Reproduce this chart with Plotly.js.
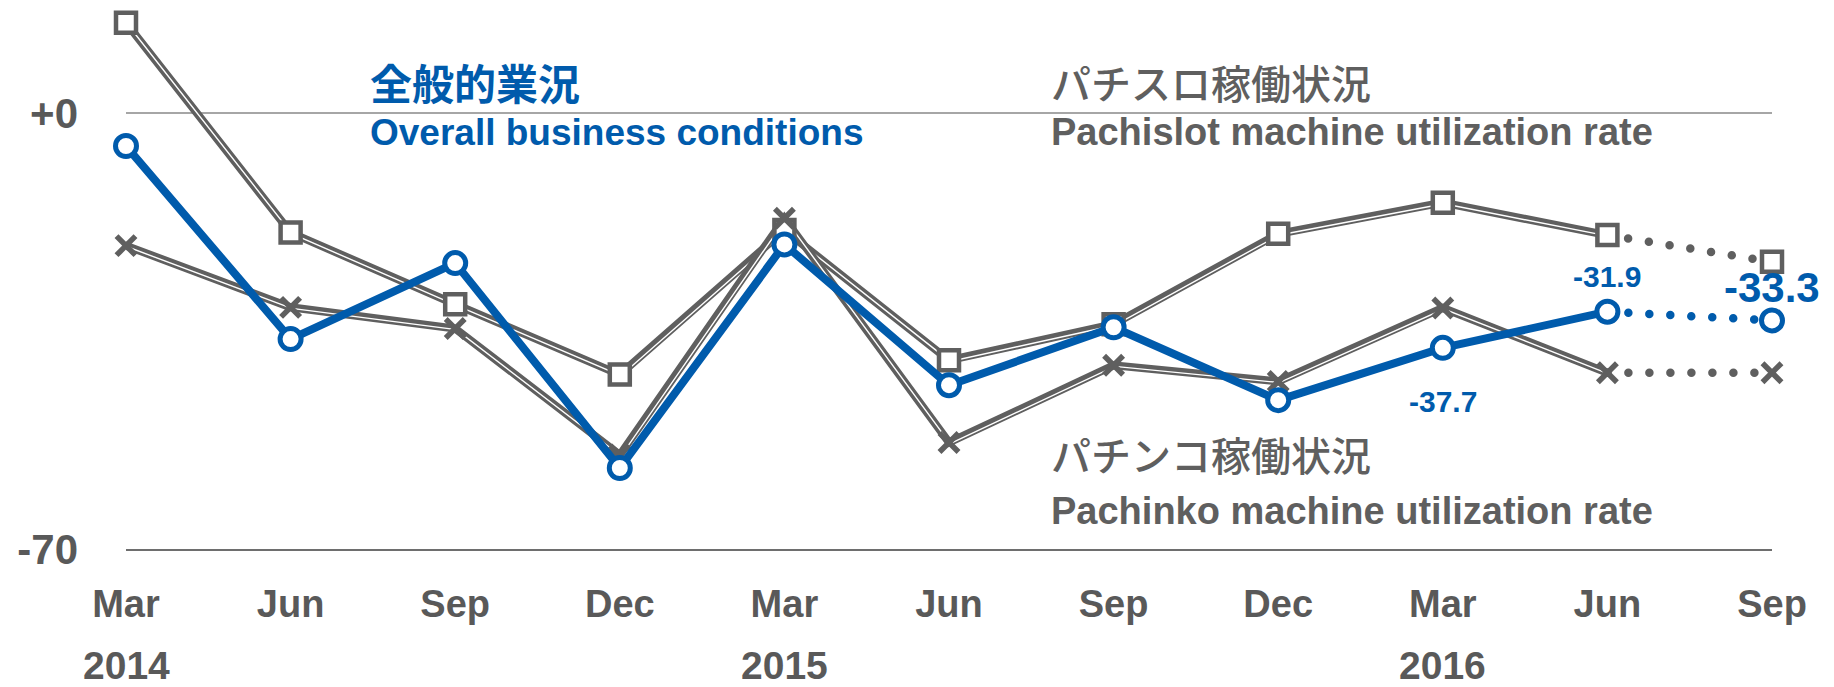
<!DOCTYPE html>
<html><head><meta charset="utf-8">
<script src="https://cdn.plot.ly/plotly-3.0.1.min.js"></script>
<style>
html,body{margin:0;padding:0;background:#fff;}
#chart{width:1834px;height:687px;}
.js-line{stroke-linecap:round !important;}
</style></head><body><div id="chart"></div>
<script>
const months = ['Mar','Jun','Sep','Dec','Mar','Jun','Sep','Dec','Mar','Jun','Sep'];
const years = ['2014','2015','2016'];
const yearIdx = [0, 4, 8];
const slot = [14.5, -19.2, -30.7, -42.0, -18.8, -39.7, -33.9, -19.4, -14.4, -19.6, -23.9];
const pachinko = [-21.3, -31.2, -34.6, -54.9, -16.9, -52.9, -40.5, -43.1, -31.3, -41.7, -41.7];
const overall = [-5.3, -36.3, -24.1, -57.0, -21.1, -43.7, -34.4, -46.1, -37.7, -31.9, -33.3];
const labelIdx = [8, 9, 10];

const GREY = '#5f5f5f', BLUE = '#005bac', TXT = '#595959';
const FONT = '"Liberation Sans", Arial, sans-serif';
const JP = '"Noto Sans CJK JP", sans-serif';
const idx = months.map((_, i) => i);
const lastSolid = 9;
const sX = idx.slice(0, lastSolid + 1), dX = idx.slice(lastSolid);

function line(x, y, color, width, dash) {
  return {x: x, y: y, type: 'scatter', mode: 'lines', hoverinfo: 'skip', showlegend: false,
    line: {color: color, width: width, dash: dash || 'solid'}};
}
function markers(y, symbol, size, fill, lc, lw) {
  return {x: idx, y: y, type: 'scatter', mode: 'markers', cliponaxis: false, showlegend: false,
    marker: {symbol: symbol, size: size, color: fill, line: {color: lc, width: lw}}};
}
const DOT = '0px,21px';
const traces = [
  line(sX, slot.slice(0, lastSolid + 1), GREY, 8),
  line(sX, slot.slice(0, lastSolid + 1), '#ffffff', 1.4),
  line(dX, slot.slice(lastSolid), GREY, 8.5, DOT),
  line(sX, pachinko.slice(0, lastSolid + 1), GREY, 8),
  line(sX, pachinko.slice(0, lastSolid + 1), '#ffffff', 1.4),
  line(dX, pachinko.slice(lastSolid), GREY, 8.5, DOT),
  markers(slot, 'square', 20, '#ffffff', GREY, 4.5),
  markers(pachinko, 'x-thin', 19, GREY, GREY, 5.5),
  line(sX, overall.slice(0, lastSolid + 1), BLUE, 8),
  line(dX, overall.slice(lastSolid), BLUE, 8.5, DOT),
  markers(overall, 'circle', 21, '#ffffff', BLUE, 5)
];
const whiteTraceIdx = [1, 4];

const labelShift = [-54, 35, 33];
const labelSize = [30, 30, 42];
const annotations = [];
yearIdx.forEach((xi, k) => annotations.push({
  x: xi, y: -0.2555, xref: 'x', yref: 'paper', text: years[k], showarrow: false, borderpad: 0,
  xanchor: 'center', yanchor: 'bottom', font: {family: FONT, size: 39, color: TXT, weight: 'bold'}
}));
labelIdx.forEach((xi, k) => annotations.push({
  x: xi, y: overall[xi], xref: 'x', yref: 'y', text: overall[xi].toFixed(1), showarrow: false,
  yshift: labelShift[k], xanchor: 'center', yanchor: 'middle',
  font: {family: FONT, size: labelSize[k], color: BLUE, weight: 'bold'}
}));
const legendTexts = [
  {x: 1.47, y: 4.98, text: '全般的業況', font: {family: JP, size: 42, color: BLUE, weight: 'bold'}},
  {x: 1.47, y: -3.05, text: 'Overall business conditions', font: {family: FONT, size: 37, color: BLUE, weight: 'bold'}},
  {x: 5.607, y: 4.98, text: 'パチスロ稼働状況', font: {family: JP, size: 40, color: GREY, weight: 500}},
  {x: 5.607, y: -3.05, text: 'Pachislot machine utilization rate', font: {family: FONT, size: 38, color: GREY, weight: 'bold'}},
  {x: 5.607, y: -54.7, text: 'パチンコ稼働状況', font: {family: JP, size: 40, color: GREY, weight: 500}},
  {x: 5.607, y: -63.9, text: 'Pachinko machine utilization rate', font: {family: FONT, size: 38, color: GREY, weight: 'bold'}}
];
legendTexts.forEach(t => annotations.push(Object.assign({xref: 'x', yref: 'y', showarrow: false,
  xanchor: 'left', yanchor: 'middle'}, t)));

const layout = {
  width: 1834, height: 687,
  margin: {l: 126, r: 62, t: 5, b: 138},
  paper_bgcolor: '#ffffff', plot_bgcolor: '#ffffff',
  showlegend: false,
  xaxis: {range: [0, 10], tickvals: idx, ticktext: months, showgrid: false, zeroline: false,
    showline: true, linecolor: '#6e6e6e', linewidth: 1.5, ticks: '', ticklabelstandoff: 21,
    tickfont: {family: FONT, size: 38, color: TXT, weight: 'bold'}},
  yaxis: {range: [-70, 17.34], tickvals: [0, -70], ticktext: ['+0', '-70'], showgrid: true,
    gridcolor: '#a6a6a6', gridwidth: 1.5, zeroline: false, ticks: '', ticklabelstandoff: 47,
    tickfont: {family: FONT, size: 42, color: TXT, weight: 'bold'}},
  annotations: annotations
};
Plotly.newPlot('chart', traces, layout, {displayModeBar: false, staticPlot: true}).then(gd => {
  // thick-thin compound line: shift the thin white stripe toward the lower-right side
  const groups = gd.querySelectorAll('.scatterlayer .trace');
  whiteTraceIdx.forEach(i => {
    const p = groups[i] && groups[i].querySelector('path.js-line');
    if (p) p.setAttribute('transform', 'translate(1.1,1.1)');
  });
});
</script></body></html>
